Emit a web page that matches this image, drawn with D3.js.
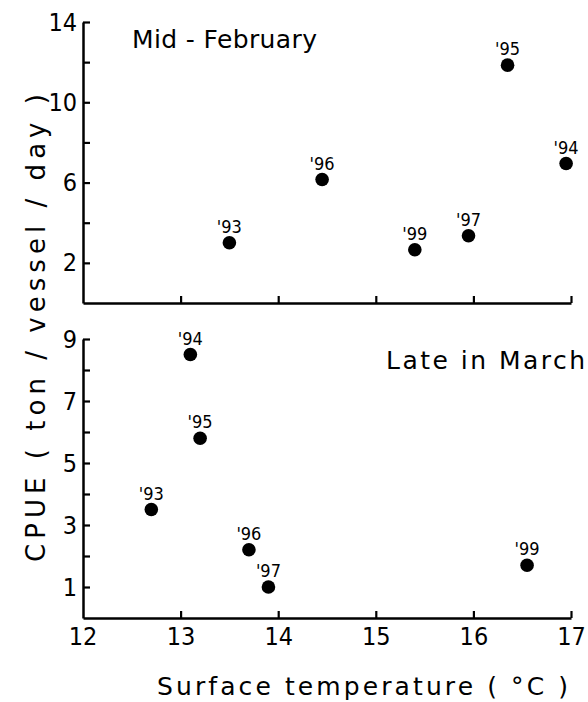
<!DOCTYPE html>
<html><head><meta charset="utf-8">
<script src="https://cdn.jsdelivr.net/npm/d3@7"></script>
<style>
body{margin:0;background:#fff;}
text{font-family:"DejaVu Sans Condensed","Liberation Sans",sans-serif;fill:#000;}
.ttl{font-family:"DejaVu Sans","Liberation Sans",sans-serif;}
</style></head>
<body><svg id="c" width="588" height="702"></svg>
<script>
// Mid-February
const febYears = ["'93","'96","'99","'97","'95","'94"];
const febTemp  = [13.5, 14.45, 15.4, 15.95, 16.35, 16.95];
const febCPUE  = [3.0, 6.15, 2.65, 3.35, 11.85, 6.95];
// Late in March
const marYears = ["'94","'95","'93","'96","'97","'99"];
const marTemp  = [13.1, 13.2, 12.7, 13.7, 13.9, 16.55];
const marCPUE  = [8.5, 5.8, 3.5, 2.2, 1.0, 1.7];

const xTicks = [13,14,15,16,17];
const xTickLabels = ["12","13","14","15","16","17"];
const topYTicks = [2,4,6,8,10,12,14];
const topYLabels = [2,6,10,14];
const botYTicks = [1,2,3,4,5,6,7,8,9];
const botYLabels = [1,3,5,7,9];

const svg = d3.select("#c");
const x = d3.scaleLinear().domain([12,17]).range([83,571]);
const yTop = d3.scaleLinear().domain([0,14]).range([303,22]);
const yBot = d3.scaleLinear().domain([0,9]).range([618,339]);
const tickFont = '"DejaVu Sans Condensed","Liberation Sans",sans-serif';

function styleAxis(g){
  g.select(".domain").attr("stroke","#000").attr("stroke-width",2.5);
  g.selectAll(".tick line").attr("stroke","#000").attr("stroke-width",2.2);
}

function panel(y, yTicks, yLabels, showXLabels, years, temps, vals){
  const gy = svg.append("g").attr("transform","translate(83,0)")
    .call(d3.axisLeft(y).tickValues(yTicks).tickSizeInner(-7).tickSizeOuter(0).tickPadding(6)
      .tickFormat(d => yLabels.includes(d) ? d : ""));
  styleAxis(gy);
  gy.selectAll(".tick text").attr("font-size",25).style("font-family",tickFont);
  const gx = svg.append("g").attr("transform",`translate(0,${y(0)})`)
    .call(d3.axisBottom(x).tickValues(xTicks).tickSizeInner(-7).tickSizeOuter(0).tickPadding(9)
      .tickFormat(d => showXLabels ? d : ""));
  styleAxis(gx);
  gx.selectAll(".tick text").attr("font-size",25).style("font-family",tickFont);
  if(showXLabels){
    gx.append("text").attr("x",x(12)).attr("y",9).attr("dy","0.71em")
      .attr("text-anchor","middle").attr("font-size",25).attr("fill","#000")
      .style("font-family",tickFont)
      .text(xTickLabels[0]);
  }
  const pts = svg.append("g");
  temps.forEach((t,i)=>{
    pts.append("circle").attr("cx",x(t)).attr("cy",y(vals[i])).attr("r",6.8).attr("fill","#000");
    pts.append("text").attr("x",x(t)).attr("y",y(vals[i])-10)
      .attr("text-anchor","middle").attr("font-size",18).text(years[i]);
  });
}

panel(yTop, topYTicks, topYLabels, false, febYears, febTemp, febCPUE);
panel(yBot, botYTicks, botYLabels, true, marYears, marTemp, marCPUE);

svg.append("text").attr("class","ttl").attr("x",132).attr("y",48).attr("font-size",25)
  .attr("textLength",185).attr("lengthAdjust","spacing").text("Mid - February");
svg.append("text").attr("class","ttl").attr("x",386).attr("y",369).attr("font-size",25)
  .attr("textLength",199).attr("lengthAdjust","spacing").text("Late  in  March");
svg.append("text").attr("class","ttl").attr("transform","translate(45,562) rotate(-90)")
  .attr("font-size",26).attr("textLength",468).attr("lengthAdjust","spacing")
  .text("CPUE ( ton / vessel / day )");
svg.append("text").attr("class","ttl").attr("x",157).attr("y",695)
  .attr("font-size",25).attr("textLength",411).attr("lengthAdjust","spacing")
  .text("Surface  temperature ( °C )");
</script></body></html>
